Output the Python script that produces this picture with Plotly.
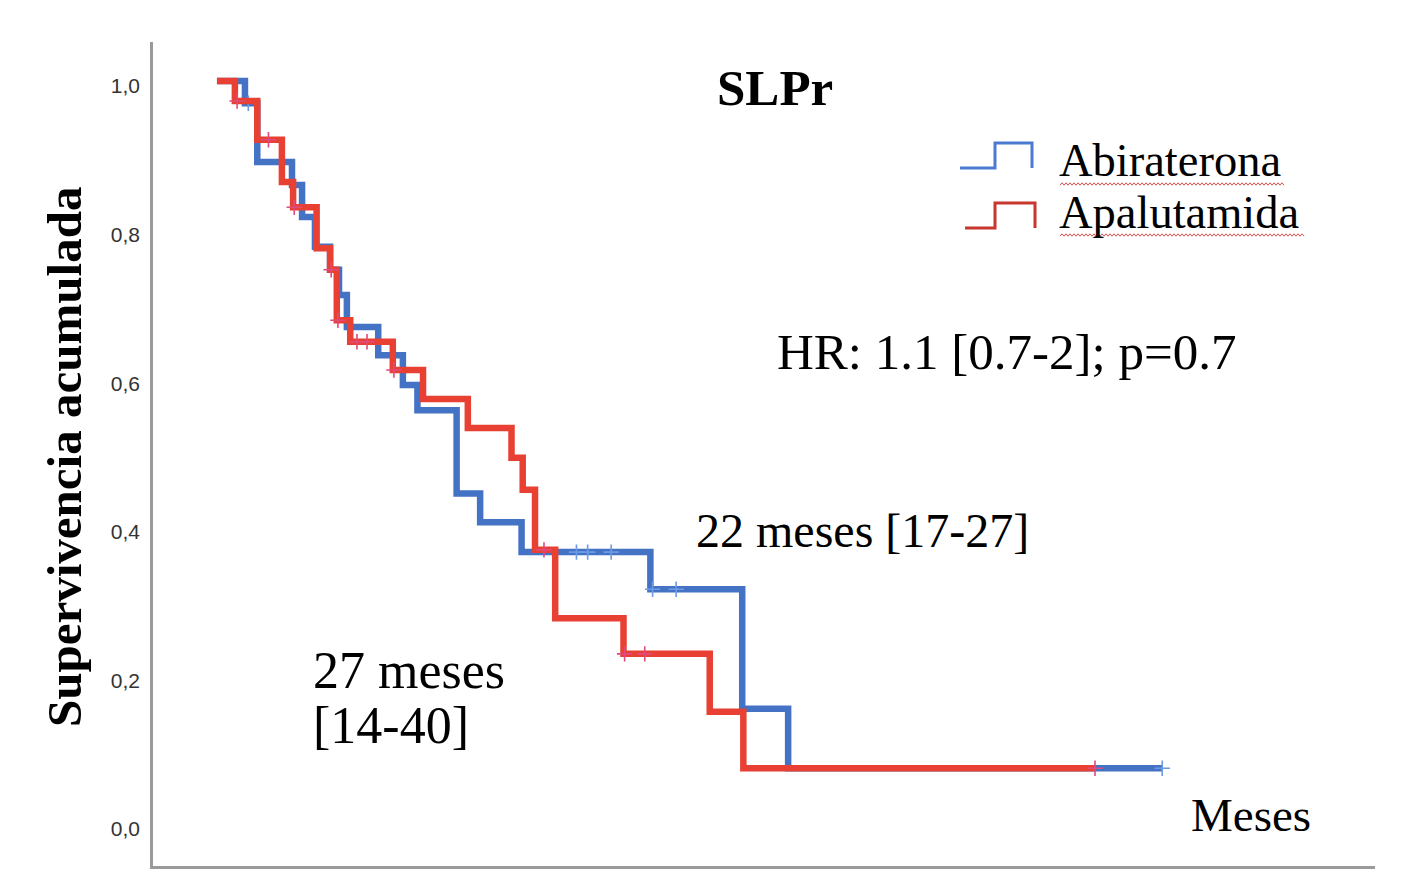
import plotly.graph_objects as go

# ---------------- data ----------------
# Kaplan-Meier step curves: time (months) of each step and survival after it
abi_t = [0, 2.5, 3.6, 6.7, 7.6, 8.75, 10.1, 10.9, 11.6, 14.4, 16.6, 17.9, 21.4, 23.5, 27.2, 38.7, 46.9, 51.0, 84.4]
abi_s = [1.0, 0.970, 0.891, 0.860, 0.817, 0.777, 0.746, 0.712, 0.669, 0.631, 0.591, 0.557, 0.445, 0.406, 0.366, 0.316, 0.155, 0.075, 0.075]
abi_cens = [2.8, 32.1, 33.1, 35.2, 38.9, 41.0, 84.4]

apa_t = [0, 1.6, 3.6, 5.8, 6.8, 8.9, 10.1, 10.7, 11.9, 15.7, 18.4, 22.4, 26.3, 27.3, 28.4, 30.2, 36.3, 44.0, 47.0, 78.4]
apa_s = [1.0, 0.973, 0.921, 0.864, 0.830, 0.775, 0.746, 0.678, 0.649, 0.611, 0.572, 0.533, 0.493, 0.450, 0.369, 0.277, 0.229, 0.151, 0.075, 0.075]
apa_cens = [1.8, 4.6, 6.9, 10.2, 10.8, 12.5, 13.4, 15.8, 29.2, 36.4, 38.2, 78.4]

y_ticks = [0.0, 0.2, 0.4, 0.6, 0.8, 1.0]
y_ticktext = ["0,0", "0,2", "0,4", "0,6", "0,8", "1,0"]

series_names = ["Abiraterona", "Apalutamida"]
title_text = "SLPr"
y_title = "Supervivencia acumulada"
x_title = "Meses"
hr_text = "HR: 1.1 [0.7-2]; p=0.7"
median_abi = "22 meses [17-27]"
median_apa = ["27 meses", "[14-40]"]

# ---------------- styles ----------------
BLUE = "#4472C4"
RED = "#E84032"
BLUE_CENS = "#6C9BE6"
RED_CENS = "#E04A7E"
SERIF = "Liberation Serif, Times New Roman, serif"
SANS = "Liberation Sans, Arial, sans-serif"

W, H = 1403, 882
L, R, T, B = 153, 28, 42, 16


def px(x):
    return (x - L) / (W - L - R)


def py(y):
    return (H - B - y) / (H - T - B)


def step_value(ts, ss, t):
    v = ss[0]
    for ti, si in zip(ts, ss):
        if ti <= t:
            v = si
    return v


fig = go.Figure()

for ts, ss, cens, col, ccol, name in [
    (abi_t, abi_s, abi_cens, BLUE, BLUE_CENS, series_names[0]),
    (apa_t, apa_s, apa_cens, RED, RED_CENS, series_names[1]),
]:
    fig.add_trace(go.Scatter(
        x=ts, y=ss, mode="lines", line=dict(color=col, width=6.5, shape="hv"),
        name=name, showlegend=False, hoverinfo="skip"))
    fig.add_trace(go.Scatter(
        x=cens, y=[step_value(ts, ss, c) for c in cens], mode="markers",
        marker=dict(symbol="cross-thin", size=11, line=dict(color=ccol, width=1.6)),
        showlegend=False, hoverinfo="skip"))

fig.update_layout(
    width=W, height=H,
    margin=dict(l=L, r=R, t=T, b=B, pad=0),
    paper_bgcolor="white", plot_bgcolor="white",
    showlegend=False,
    xaxis=dict(range=[-5.71, 103.4], showgrid=False, zeroline=False,
               showticklabels=False, ticks="", showline=True,
               linecolor="#9a9a9a", linewidth=2.5),
    yaxis=dict(range=[-0.0565, 1.0525], showgrid=False, zeroline=False,
               tickvals=y_ticks, ticktext=y_ticktext, ticks="",
               tickfont=dict(family=SANS, size=21, color="#333"),
               ticklabelstandoff=6, ticklabelshift=5,
               showline=True, linecolor="#9a9a9a", linewidth=2.5),
)

ann = []


def add_text(text, x, y, size, bold=False, xanchor="left", angle=0):
    t = f"<b>{text}</b>" if bold else text
    ann.append(dict(text=t, x=px(x), y=py(y), xref="paper", yref="paper",
                    xanchor=xanchor, yanchor="middle", showarrow=False,
                    textangle=angle,
                    font=dict(family=SERIF, size=size, color="black")))


add_text(title_text, 775, 88, 51, bold=True, xanchor="center")
add_text(hr_text, 775, 352, 51)
add_text(median_abi, 694, 530, 48)
add_text(median_apa[0], 311, 670, 52)
add_text(median_apa[1], 311, 725, 52)
add_text(x_title, 1189, 815, 47)
add_text(series_names[0], 1057, 160, 46.5)
add_text(series_names[1], 1057, 213, 46.5)
add_text(y_title, 64, 457, 49, bold=True, xanchor="center", angle=-90)
fig.update_layout(annotations=ann)

# legend step icons
shapes = []


def icon(x0, x1, x2, ylow, yhigh, col):
    path = (f"M {px(x0)},{py(ylow)} L {px(x1)},{py(ylow)} L {px(x1)},{py(yhigh)} "
            f"L {px(x2)},{py(yhigh)} L {px(x2)},{py(ylow)}")
    shapes.append(dict(type="path", path=path, xref="paper", yref="paper",
                       line=dict(color=col, width=3)))


icon(960, 995, 1032, 168, 143, "#4A7BD0")
icon(965, 995, 1035, 228, 203, "#C8372D")


def wavy(x0, x1, y):
    pts = []
    x = x0
    k = 0
    while x <= x1:
        yy = y + (1.2 if k % 2 == 0 else -1.2)
        pts.append(f"{px(x)},{py(yy)}")
        x += 2
        k += 1
    shapes.append(dict(type="path", path="M " + " L ".join(pts), xref="paper", yref="paper",
                       line=dict(color="#E05050", width=1)))


wavy(1060, 1285, 184)
wavy(1060, 1305, 235)
fig.update_layout(shapes=shapes)

fig.write_html("out.html")
